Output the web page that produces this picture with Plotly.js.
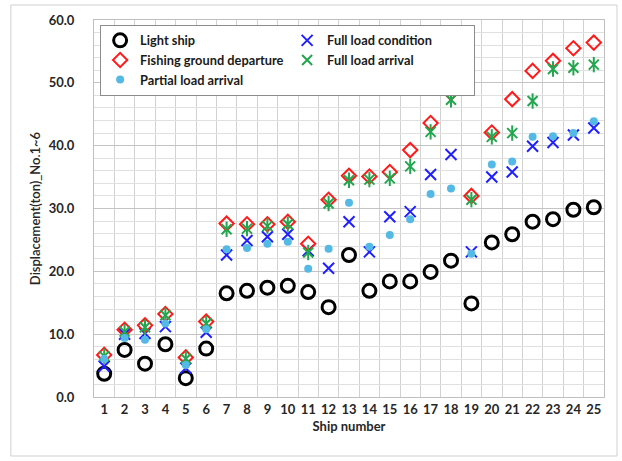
<!DOCTYPE html>
<html>
<head>
<meta charset="utf-8">
<script src="https://cdn.plot.ly/plotly-3.0.1.min.js"></script>
<style>html,body{margin:0;padding:0;background:#fff;}#chart{width:622px;height:461px;}</style>
</head>
<body>
<div id="chart"></div>
<script>
var ships = [1,2,3,4,5,6,7,8,9,10,11,12,13,14,15,16,17,18,19,20,21,22,23,24,25];
var lightShip = [3.7,7.5,5.3,8.4,3.0,7.7,16.5,16.9,17.4,17.7,16.7,14.3,22.6,16.9,18.4,18.4,19.9,21.7,14.9,24.6,25.9,27.9,28.3,29.8,30.2];
var fullLoadCondition = [4.9,10.0,10.1,11.2,4.6,10.3,22.6,24.9,25.5,25.9,23.3,20.5,27.9,23.1,28.7,29.5,35.4,38.6,23.1,35.0,35.8,39.9,40.5,41.7,42.8];
var fishingGroundDeparture = [6.7,10.7,11.4,13.2,6.3,12.0,27.6,27.5,27.5,27.9,24.4,31.4,35.2,35.1,35.8,39.3,43.6,48.4,32.0,42.1,47.4,51.9,53.5,55.5,56.4];
var fullLoadArrival = [6.5,10.4,11.1,13.0,6.1,11.7,26.7,26.8,27.2,27.5,23.0,30.8,34.5,34.6,34.8,36.7,42.2,47.3,31.4,41.4,42.0,47.1,52.2,52.4,52.9];
var partialLoadArrival = [6.1,9.4,9.1,11.7,5.1,10.8,23.5,23.7,24.4,24.7,20.4,23.6,30.9,23.9,25.8,28.3,32.3,33.2,22.8,37.0,37.5,41.4,41.5,42.0,43.9];
var yTicks = [0,10,20,30,40,50,60];

var boldFont = {family: 'Lato, "Open Sans", sans-serif', size: 13, color: '#262626', weight: 'bold'};

var traces = [
  {x: ships, y: lightShip, name: 'Light ship', type: 'scatter', mode: 'markers',
   marker: {symbol: 'circle-open', size: 13, color: '#000000', line: {width: 3, color: '#000000'}}},
  {x: ships, y: fullLoadCondition, name: 'Full load condition', type: 'scatter', mode: 'markers',
   marker: {symbol: 'x-thin-open', size: 11, color: '#1f1fff', line: {width: 2, color: '#1f1fff'}}},
  {x: ships, y: fishingGroundDeparture, name: 'Fishing ground departure', type: 'scatter', mode: 'markers',
   marker: {symbol: 'diamond-open', size: 11, color: '#ff1a1a', line: {width: 2, color: '#ff1a1a'}}},
  {x: ships, y: fullLoadArrival, name: 'Full load arrival', type: 'scatter', mode: 'markers', legendgroup: 'fla',
   marker: {symbol: 'x-thin-open', size: 10, color: '#22a64e', line: {width: 2, color: '#22a64e'}}},
  {x: ships, y: fullLoadArrival, name: 'Full load arrival', type: 'scatter', mode: 'markers', legendgroup: 'fla', showlegend: false,
   marker: {symbol: 'line-ns-open', size: 11, color: '#22a64e', line: {width: 2, color: '#22a64e'}}},
  {x: ships, y: partialLoadArrival, name: 'Partial load arrival', type: 'scatter', mode: 'markers',
   marker: {symbol: 'circle', size: 8, color: '#55b9e6', line: {width: 0}}}
];

var layout = {
  width: 622, height: 461,
  margin: {l: 94, r: 18, t: 20, b: 64, pad: 0},
  paper_bgcolor: '#ffffff', plot_bgcolor: '#ffffff',
  showlegend: true,
  legend: {
    orientation: 'h', x: 0.012, y: 0.988, xanchor: 'left', yanchor: 'top',
    bgcolor: '#ffffff', bordercolor: '#8c8c8c', borderwidth: 1,
    entrywidth: 142, entrywidthmode: 'pixels',
    font: {family: 'Lato, "Open Sans", sans-serif', size: 12.8, color: '#1a1a1a', weight: 'bold'},
    itemwidth: 30, tracegroupgap: 0
  },
  xaxis: {
    range: [0.5, 25.5], tickmode: 'array', tickvals: ships, ticktext: ships.map(String),
    showgrid: false, zeroline: false, ticks: '',
    showline: true, linecolor: '#bfbfbf', linewidth: 1, mirror: true,
    tickfont: boldFont,
    minor: {tick0: 0.5, dtick: 1, showgrid: true, gridcolor: '#d2d2d2', gridwidth: 1, ticks: ''},
    title: {text: 'Ship number', font: boldFont, standoff: 6}
  },
  yaxis: {
    range: [0, 60], tickmode: 'array', tickvals: yTicks, ticktext: yTicks.map(function(v){return v.toFixed(1);}),
    showgrid: true, gridcolor: '#c4c4c4', gridwidth: 1, zeroline: false, ticks: '',
    showline: true, linecolor: '#bfbfbf', linewidth: 1, mirror: true,
    tickfont: boldFont, ticklabelstandoff: 16,
    minor: {dtick: 2, showgrid: true, gridcolor: '#e0e0e0', gridwidth: 1, ticks: ''},
    title: {text: 'Displacement(ton)_No.1~6', font: {family: 'Lato, "Open Sans", sans-serif', size: 13, color: '#262626', weight: 600}, standoff: 5}
  },
  shapes: [
    {type: 'rect', xref: 'paper', yref: 'paper', x0: -0.163, x1: 1.0255, y0: -0.1565, y1: 1.0398,
     line: {color: '#d0d0d0', width: 1}, fillcolor: 'rgba(0,0,0,0)', layer: 'below'}
  ]
};

Plotly.newPlot('chart', traces, layout, {displayModeBar: false, staticPlot: true});
</script>
</body>
</html>
